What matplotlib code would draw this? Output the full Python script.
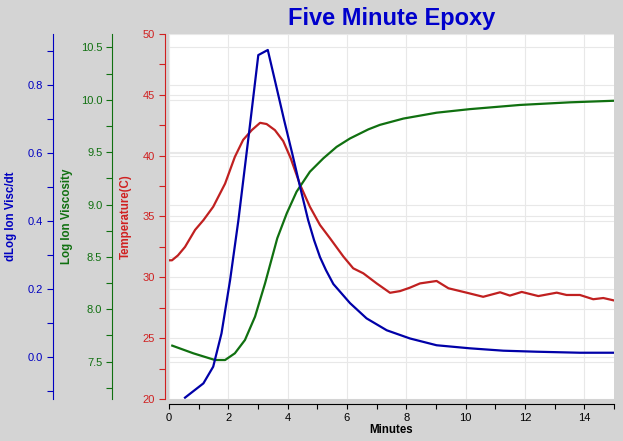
import matplotlib
matplotlib.use("Agg")
import matplotlib.pyplot as plt
from matplotlib.ticker import MultipleLocator, FormatStrFormatter
from matplotlib.transforms import blended_transform_factory
from matplotlib.lines import Line2D

# ---- data ----
temp_x = [0.0, 0.1, 0.3, 0.54, 0.88, 1.16, 1.49, 1.89, 2.22, 2.5, 2.79, 3.07, 3.29,
          3.57, 3.85, 4.1, 4.42, 4.75, 5.09, 5.43, 5.88, 6.21, 6.55, 7.0, 7.45, 7.79,
          8.12, 8.46, 9.02, 9.42, 10.03, 10.59, 11.16, 11.49, 11.89, 12.45, 13.07, 13.4,
          13.85, 14.3, 14.64, 15.0]
temp_y = [31.4, 31.4, 31.8, 32.5, 33.9, 34.7, 35.8, 37.7, 39.9, 41.3, 42.1, 42.7, 42.6,
          42.1, 41.2, 39.8, 37.6, 35.8, 34.3, 33.2, 31.7, 30.74, 30.33, 29.5, 28.73,
          28.87, 29.15, 29.5, 29.7, 29.1, 28.74, 28.4, 28.77, 28.5, 28.8, 28.46, 28.74,
          28.55, 28.55, 28.2, 28.3, 28.1]

visc_x = [0.11, 0.82, 1.55, 1.89, 2.22, 2.56, 2.9, 3.24, 3.65, 3.97, 4.3, 4.75, 5.2,
          5.65, 6.1, 6.72, 7.11, 7.9, 9.02, 10.14, 11.83, 13.52, 15.0]
visc_y = [7.653, 7.58, 7.516, 7.516, 7.58, 7.707, 7.93, 8.25, 8.678, 8.916, 9.122,
          9.313, 9.44, 9.55, 9.63, 9.717, 9.76, 9.82, 9.876, 9.91, 9.95, 9.975, 9.99]

dvisc_x = [0.54, 1.16, 1.49, 1.77, 2.06, 2.34, 2.7, 3.01, 3.33, 3.63, 3.88, 4.15, 4.42,
           4.69, 4.89, 5.09, 5.29, 5.54, 6.1, 6.66, 7.34, 8.12, 9.02, 10.14, 11.27,
           12.39, 13.85, 15.0]
dvisc_y = [-0.12, -0.078, -0.029, 0.069, 0.226, 0.402, 0.66, 0.887, 0.902, 0.79, 0.696,
           0.599, 0.499, 0.402, 0.343, 0.293, 0.255, 0.214, 0.158, 0.113, 0.078, 0.054,
           0.034, 0.025, 0.018, 0.015, 0.012, 0.012]

title = "Five Minute Epoxy"
xlabel = "Minutes"
temp_label = "Temperature(C)"
visc_label = "Log Ion Viscosity"
dvisc_label = "dLog Ion Visc/dt"

RED, GREEN, BLUE = "#D02020", "#107010", "#0000C0"
RED_L, GREEN_L, BLUE_L = "#C02020", "#107010", "#0000A8"
GRID = "#E8E8E8"
BG = "#D4D4D4"

plt.rcParams['font.family'] = ['Liberation Sans', 'DejaVu Sans']

W, H = 623, 441
fig = plt.figure(figsize=(W / 100, H / 100), dpi=100, facecolor=BG)
L, R, T, B = 169, 614, 34, 399
ax = fig.add_axes([L / W, 1 - B / H, (R - L) / W, (B - T) / H])
ax.set_facecolor("white")
ax2 = ax.twinx()
ax3 = ax.twinx()
for a in (ax2, ax3):
    a.patch.set_visible(False)

ax.set_xlim(0, 15)
ax.set_ylim(20, 50)
ax2.set_ylim(7.144, 10.627)
ax3.set_ylim(-0.124, 0.949)

# spines
for a in (ax, ax2, ax3):
    for s in ("top", "right"):
        a.spines[s].set_visible(False)
for a in (ax2, ax3):
    a.spines["bottom"].set_visible(False)
    a.spines["left"].set_visible(True)
    a.yaxis.set_ticks_position("left")
    a.yaxis.set_label_position("left")

ax.spines["left"].set_position(("outward", 4 * 0.72))
ax2.spines["left"].set_position(("outward", 57 * 0.72))
ax3.spines["left"].set_position(("outward", 116 * 0.72))
ax.spines["bottom"].set_position(("outward", 5 * 0.72))

for a, c in ((ax, RED), (ax2, GREEN), (ax3, BLUE)):
    a.spines["left"].set_color(c)
    a.tick_params(axis="y", which="both", colors=c, labelcolor=c, length=4.5,
                  width=0.8, labelsize=8, pad=2.5)
ax.tick_params(axis="x", which="both", colors="black", length=3.5, width=0.8,
               labelsize=8, pad=3)

ax.xaxis.set_major_locator(MultipleLocator(2))
ax.xaxis.set_minor_locator(MultipleLocator(1))
ax.yaxis.set_major_locator(MultipleLocator(5))
ax.yaxis.set_minor_locator(MultipleLocator(2.5))
ax2.yaxis.set_major_locator(MultipleLocator(0.5))
ax2.yaxis.set_minor_locator(MultipleLocator(0.25))
ax3.yaxis.set_major_locator(MultipleLocator(0.2))
ax3.yaxis.set_minor_locator(MultipleLocator(0.1))
ax2.yaxis.set_major_formatter(FormatStrFormatter("%.1f"))
ax3.yaxis.set_major_formatter(FormatStrFormatter("%.1f"))

# grid lines (all drawn in the host axes, beneath the data)
ax.set_axisbelow(True)
ax.grid(True, which="major", color=GRID, linewidth=0.8)
for a, ticks in ((ax2, [7.5, 8.0, 8.5, 9.0, 9.5, 10.0, 10.5]),
                 (ax3, [0.0, 0.2, 0.4, 0.6, 0.8])):
    tr = blended_transform_factory(ax.transAxes, a.transData)
    for t in ticks:
        ax.add_line(Line2D([0, 1], [t, t], transform=tr, color=GRID,
                           linewidth=0.8, zorder=0.5))

# data lines
ax.plot(temp_x, temp_y, color=RED_L, linewidth=1.6, zorder=3)
ax2.plot(visc_x, visc_y, color=GREEN_L, linewidth=1.6, zorder=3)
ax3.plot(dvisc_x, dvisc_y, color=BLUE_L, linewidth=1.6, zorder=3)

# labels
lab = dict(fontsize=8.3, fontweight="bold")
ax.set_ylabel(temp_label, color=RED, **lab)
ax2.set_ylabel(visc_label, color=GREEN, **lab)
ax3.set_ylabel(dvisc_label, color=BLUE, **lab)
ax.yaxis.set_label_coords((132 - L) / (R - L), 0.5)
ax2.yaxis.set_label_coords((73 - L) / (R - L), 0.5)
ax3.yaxis.set_label_coords((17 - L) / (R - L), 0.5)
ax.set_xlabel(xlabel, fontsize=8.3, fontweight="bold", labelpad=1)

fig.text((L + R) / 2 / W, 1 - 18 / H, title, color="#0000CC", fontsize=17,
         fontweight="bold", ha="center", va="center")

fig.savefig("out.png", dpi=100, facecolor=BG)
